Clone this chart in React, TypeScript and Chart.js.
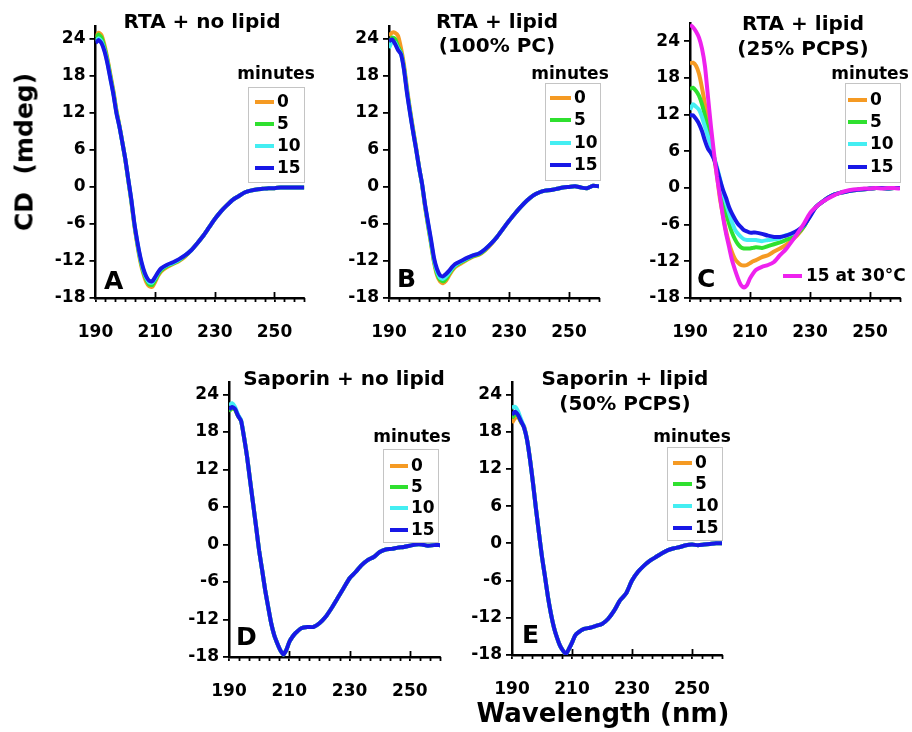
import React, { useEffect, useRef } from 'react';
import { Chart, registerables } from 'chart.js';

Chart.register(...registerables);

const FONT = '"DejaVu Sans", "Liberation Sans", sans-serif';

// ---------- data ----------
const WAVELENGTHS = [190, 191, 192, 193, 194, 195, 196, 197, 198, 199, 200, 201, 202, 203, 204, 205, 206, 207, 208, 209, 210, 211, 212,
  214, 216, 218, 220, 222, 224, 226, 228, 230, 232, 234, 236, 238, 240, 242, 244, 246, 248, 250, 252, 254, 256, 258, 260];

const X_LABEL_TICKS = [190, 210, 230, 250];
const X_MINOR_TICKS = [193.33, 196.67, 200, 203.33, 206.67, 213.33, 216.67, 220, 223.33, 226.67,
  233.33, 236.67, 240, 243.33, 246.67, 253.33, 256.67, 260];
const Y_TICKS = [-18, -12, -6, 0, 6, 12, 18, 24];

const SERIES_LABELS = ['0', '5', '10', '15'];
const SERIES_COLORS = ['#F59A23', '#2FE02F', '#44EEF2', '#1818E6'];
const HOT_LABEL = '15 at 30°C';
const HOT_COLOR = '#EE22EE';

// Panel A: RTA + no lipid
const A_TAIL = [-10.3, -9.2, -8.0, -6.6, -5.2, -4.0, -3.0, -2.1, -1.5, -0.9, -0.6, -0.4, -0.3, -0.2, -0.2, -0.1, -0.1, -0.1, -0.1, -0.1];
const A_0 = [24.3, 25.0, 24.6, 23.0, 20.8, 18.2, 15.6, 12.5, 10.0, 7.3, 4.4, 1.0, -2.4, -6.2, -9.3, -12.0, -14.0, -15.4, -16.1, -16.2, -15.4, -14.4, -13.7, -13.0, -12.5, -12.0, -11.3, ...A_TAIL];
const A_5 = [24.0, 24.7, 24.2, 22.6, 20.5, 17.9, 15.3, 12.3, 9.9, 7.2, 4.4, 1.1, -2.2, -6.0, -9.1, -11.7, -13.7, -15.0, -15.8, -15.9, -15.1, -14.2, -13.5, -12.8, -12.4, -11.9, -11.2, ...A_TAIL];
const A_10 = [23.6, 24.1, 23.6, 22.2, 20.2, 17.6, 15.1, 12.1, 9.8, 7.2, 4.5, 1.1, -2.1, -5.9, -8.9, -11.5, -13.4, -14.7, -15.5, -15.5, -14.8, -13.9, -13.3, -12.7, -12.3, -11.8, -11.1, ...A_TAIL];
const A_15 = [23.3, 23.8, 23.3, 22.0, 20.0, 17.5, 15.0, 12.0, 9.8, 7.2, 4.5, 1.2, -2.0, -5.8, -8.8, -11.3, -13.2, -14.5, -15.2, -15.3, -14.6, -13.8, -13.2, -12.6, -12.2, -11.7, -11.1, ...A_TAIL];

// Panel B: RTA + lipid (100% PC)
const B_TAIL = [-8.1, -6.8, -5.5, -4.3, -3.2, -2.2, -1.4, -0.9, -0.6, -0.5, -0.3, -0.1, 0.0, 0.1, -0.1, -0.2, 0.2, 0.1];
const B_0 = [24.5, 25.0, 25.0, 24.5, 22.5, 19.8, 16.0, 12.6, 9.5, 6.5, 3.3, 0.4, -3.2, -6.3, -9.2, -12.2, -14.3, -15.3, -15.6, -15.2, -14.4, -13.6, -13.0, -12.4, -11.8, -11.3, -11.0, -10.3, -9.3, ...B_TAIL];
const B_5 = [23.0, 24.2, 24.0, 22.8, 21.8, 19.3, 15.6, 12.3, 9.2, 6.3, 3.2, 0.5, -3.0, -6.1, -9.0, -12.0, -14.0, -15.0, -15.3, -14.9, -14.1, -13.4, -12.8, -12.2, -11.7, -11.2, -10.9, -10.2, -9.2, ...B_TAIL];
const B_10 = [22.5, 23.5, 23.4, 22.4, 21.6, 19.1, 15.4, 12.1, 9.1, 6.2, 3.2, 0.5, -2.9, -5.9, -8.8, -11.8, -13.7, -14.7, -14.9, -14.5, -13.9, -13.2, -12.7, -12.1, -11.6, -11.1, -10.8, -10.1, -9.2, ...B_TAIL];
const B_15 = [23.6, 23.9, 23.2, 22.2, 21.5, 19.0, 15.2, 12.0, 9.0, 6.2, 3.2, 0.6, -2.8, -5.7, -8.5, -11.5, -13.3, -14.3, -14.5, -14.1, -13.6, -13.0, -12.5, -12.0, -11.5, -11.1, -10.8, -10.1, -9.2, ...B_TAIL];

// Panel C: RTA + lipid (25% PCPS)
const C_TAIL = [-3.1, -2.3, -1.6, -1.1, -0.8, -0.6, -0.4, -0.3, -0.2, -0.1, 0.0, 0.0, -0.1, 0.0, 0.0];
const C_0 = [20.4, 20.5, 20.0, 18.7, 16.4, 13.7, 10.4, 7.5, 5.0, 2.0, -1.8, -4.5, -7.0, -9.0, -10.5, -11.6, -12.2, -12.6, -12.7, -12.6, -12.3, -12.0, -11.8, -11.3, -11.0, -10.4, -9.9, -9.3, -8.5, -7.6, -6.3, -4.4, ...C_TAIL];
const C_5 = [16.2, 16.4, 15.9, 15.1, 13.7, 11.8, 9.5, 7.2, 5.1, 2.9, 0.5, -2.0, -4.1, -5.8, -7.3, -8.4, -9.2, -9.7, -9.9, -9.9, -9.9, -9.8, -9.7, -9.8, -9.5, -9.2, -8.9, -8.5, -8.1, -7.4, -6.3, -4.5, ...C_TAIL];
const C_10 = [12.8, 13.7, 13.3, 12.8, 11.6, 10.0, 8.4, 6.8, 5.1, 3.4, 1.5, -0.7, -2.5, -4.1, -5.6, -6.8, -7.5, -8.0, -8.4, -8.5, -8.5, -8.5, -8.5, -8.7, -8.5, -8.4, -8.2, -7.7, -7.5, -7.0, -6.1, -4.5, ...C_TAIL];
const C_15 = [11.9, 11.9, 11.3, 10.5, 9.3, 7.7, 6.4, 5.7, 4.7, 3.1, 1.3, -0.3, -1.6, -3.1, -4.2, -5.1, -5.9, -6.4, -6.9, -7.1, -7.3, -7.3, -7.3, -7.5, -7.8, -8.0, -8.0, -7.8, -7.4, -6.9, -6.1, -4.7, ...C_TAIL];
const C_HOT = [26.7, 26.3, 25.6, 24.6, 22.8, 19.9, 14.9, 10.0, 5.7, 1.8, -1.4, -4.7, -7.4, -9.6, -11.8, -13.4, -14.8, -15.9, -16.3, -15.9, -14.8, -14.0, -13.4, -12.9, -12.6, -12.1, -11.0, -10.0, -8.7, -7.3, -5.8, -4.1, -3.1, -2.3, -1.7, -1.2, -0.8, -0.5, -0.3, -0.2, -0.1, -0.1, 0.0, -0.1, 0.0, 0.0, -0.1];

// Panel D: Saporin + no lipid
const D_TAIL = [-17.6, -16.9, -15.6, -14.8, -14.2, -13.4, -13.2, -13.2, -12.6, -11.6, -10.2, -8.6, -7.0, -5.4, -4.4, -3.3, -2.5, -2.0, -1.2, -0.8, -0.7, -0.5, -0.4, -0.2, 0.0, 0.0, -0.2, -0.1, -0.1];
const D_0 = [21.4, 21.8, 21.6, 20.6, 19.8, 17.2, 14.1, 10.3, 6.6, 2.8, -1.0, -4.1, -7.3, -10.0, -12.6, -14.5, -15.8, -16.9, ...D_TAIL];
const D_5 = [21.3, 21.8, 21.6, 20.6, 19.8, 17.1, 14.0, 10.2, 6.5, 2.8, -1.0, -4.1, -7.3, -10.0, -12.6, -14.5, -15.8, -16.9, ...D_TAIL];
const D_10 = [22.3, 22.6, 22.0, 20.8, 19.9, 17.2, 14.1, 10.2, 6.5, 2.8, -1.0, -4.1, -7.3, -10.0, -12.6, -14.5, -15.8, -16.9, ...D_TAIL];
const D_15 = [21.6, 22.0, 21.7, 20.6, 19.8, 17.1, 14.0, 10.2, 6.5, 2.8, -1.0, -4.1, -7.3, -10.0, -12.6, -14.5, -15.8, -16.9, ...D_TAIL];

// Panel E: Saporin + lipid (50% PCPS)
const E_TAIL = [-13.6, -15.2, -16.5, -17.3, -17.8, -17.0, -16.0, -14.9, -14.4, -13.8, -13.6, -13.3, -13.0, -12.2, -10.9, -9.2, -8.1, -6.0, -4.6, -3.6, -2.8, -2.2, -1.6, -1.1, -0.8, -0.6, -0.3, -0.2, -0.3, -0.2, -0.1, 0.0, 0.0];
const E_0 = [19.4, 20.2, 20.4, 19.5, 18.9, 16.8, 13.6, 9.8, 5.6, 1.6, -2.2, -5.4, -8.7, -11.4, ...E_TAIL];
const E_5 = [20.2, 20.8, 20.6, 19.6, 18.7, 16.7, 13.5, 9.7, 5.5, 1.6, -2.2, -5.4, -8.7, -11.4, ...E_TAIL];
const E_10 = [21.9, 22.0, 21.3, 20.0, 18.8, 16.7, 13.5, 9.7, 5.5, 1.6, -2.2, -5.4, -8.7, -11.4, ...E_TAIL];
const E_15 = [20.7, 21.2, 20.7, 19.7, 18.7, 16.7, 13.5, 9.7, 5.5, 1.6, -2.2, -5.4, -8.7, -11.4, ...E_TAIL];

// ---------- layout ----------
const Y_AXIS_W = 60;
const X_AXIS_H = 45;

type Legend = { box: [number, number, number, number]; titleX: number; titleY: number; rows: number[]; lineX: [number, number]; textX: number };
type Panel = {
  canvas: { left: number; top: number; w: number; h: number };
  area: { left: number; right: number; top: number; bottom: number };
  yMax: number;
  title: string[]; titleX: number; titleY: number[];
  letter: string; letterX: number; letterY: number;
  legend: Legend;
  series: number[][];
  hot?: { data: number[]; lineX: [number, number]; y: number; textX: number };
};

const PANELS: Panel[] = [
  {
    canvas: { left: 35, top: 0, w: 290, h: 345 },
    area: { left: 95.5, right: 304.3, top: 26.5, bottom: 298 },
    yMax: 26,
    title: ['RTA + no lipid'], titleX: 202, titleY: [23],
    letter: 'A', letterX: 104, letterY: 289,
    legend: { box: [248, 87, 304, 182], titleX: 276, titleY: 75, rows: [102, 124, 146, 168], lineX: [255, 274], textX: 277 },
    series: [A_0, A_5, A_10, A_15],
  },
  {
    canvas: { left: 329, top: 0, w: 290, h: 345 },
    area: { left: 389, right: 599, top: 26.5, bottom: 298 },
    yMax: 26,
    title: ['RTA + lipid', '(100% PC)'], titleX: 497, titleY: [23, 47],
    letter: 'B', letterX: 397, letterY: 287,
    legend: { box: [545, 83, 600, 180], titleX: 570, titleY: 75, rows: [98, 120, 143, 165], lineX: [550, 571], textX: 574 },
    series: [B_0, B_5, B_10, B_15],
  },
  {
    canvas: { left: 630, top: 0, w: 282, h: 345 },
    area: { left: 690, right: 900, top: 23, bottom: 298 },
    yMax: 27,
    title: ['RTA + lipid', '(25% PCPS)'], titleX: 803, titleY: [25, 50],
    letter: 'C', letterX: 697, letterY: 287,
    legend: { box: [845, 83, 900, 182], titleX: 870, titleY: 75, rows: [100, 122, 144, 167], lineX: [848, 867], textX: 870 },
    series: [C_0, C_5, C_10, C_15],
    hot: { data: C_HOT, lineX: [783, 802], y: 276, textX: 806 },
  },
  {
    canvas: { left: 169, top: 360, w: 290, h: 345 },
    area: { left: 229, right: 440, top: 382, bottom: 657 },
    yMax: 26,
    title: ['Saporin + no lipid'], titleX: 344, titleY: [380],
    letter: 'D', letterX: 236, letterY: 645,
    legend: { box: [383, 449, 438, 542], titleX: 412, titleY: 438, rows: [466, 487, 508, 530], lineX: [390, 408], textX: 411 },
    series: [D_0, D_5, D_10, D_15],
  },
  {
    canvas: { left: 452, top: 360, w: 290, h: 345 },
    area: { left: 512, right: 722, top: 382, bottom: 655 },
    yMax: 26,
    title: ['Saporin + lipid', '(50% PCPS)'], titleX: 625, titleY: [380, 405],
    letter: 'E', letterX: 522, letterY: 643,
    legend: { box: [667, 447, 722, 540], titleX: 692, titleY: 438, rows: [463, 484, 506, 528], lineX: [673, 692], textX: 695 },
    series: [E_0, E_5, E_10, E_15],
  },
];

function makeDecor(p: Panel) {
  const ox = p.canvas.left;
  const oy = p.canvas.top;
  return {
    id: 'decor',
    afterDraw(chart: any) {
      const ctx: CanvasRenderingContext2D = chart.ctx;
      const ca = chart.chartArea;
      const xs = chart.scales.x;
      ctx.save();
      // x minor ticks and major tick upward parts
      ctx.strokeStyle = '#000';
      ctx.lineWidth = 1.8;
      ctx.beginPath();
      for (const v of X_MINOR_TICKS) {
        const px = Math.round(xs.getPixelForValue(v)) + 0.5;
        ctx.moveTo(px, ca.bottom);
        ctx.lineTo(px, ca.bottom + 4);
      }
      for (const v of X_LABEL_TICKS) {
        if (v === 190) continue;
        const px = Math.round(xs.getPixelForValue(v)) + 0.5;
        ctx.moveTo(px, ca.bottom - 6);
        ctx.lineTo(px, ca.bottom);
      }
      ctx.stroke();

      ctx.fillStyle = '#000';
      // title
      ctx.font = `bold 20px ${FONT}`;
      ctx.textAlign = 'center';
      ctx.textBaseline = 'middle';
      p.title.forEach((t, i) => ctx.fillText(t, p.titleX - ox, p.titleY[i] - oy));
      // panel letter
      ctx.font = `bold 25px ${FONT}`;
      ctx.textAlign = 'left';
      ctx.textBaseline = 'alphabetic';
      ctx.fillText(p.letter, p.letterX - ox, p.letterY - oy);
      // legend
      const lg = p.legend;
      ctx.font = `bold 17px ${FONT}`;
      ctx.textAlign = 'center';
      ctx.textBaseline = 'middle';
      ctx.fillText('minutes', lg.titleX - ox, lg.titleY - oy);
      ctx.strokeStyle = '#c4c4c4';
      ctx.lineWidth = 1;
      const [bl, bt, br, bb] = lg.box;
      ctx.strokeRect(bl - ox + 0.5, bt - oy + 0.5, br - bl, bb - bt);
      ctx.textAlign = 'left';
      ctx.lineWidth = 4;
      SERIES_LABELS.forEach((lab, i) => {
        const y = lg.rows[i] - oy;
        ctx.strokeStyle = SERIES_COLORS[i];
        ctx.beginPath();
        ctx.moveTo(lg.lineX[0] - ox, y);
        ctx.lineTo(lg.lineX[1] - ox, y);
        ctx.stroke();
        ctx.fillStyle = '#000';
        ctx.fillText(lab, lg.textX - ox, y + 1);
      });
      if (p.hot) {
        const y = p.hot.y - oy;
        ctx.strokeStyle = HOT_COLOR;
        ctx.beginPath();
        ctx.moveTo(p.hot.lineX[0] - ox, y);
        ctx.lineTo(p.hot.lineX[1] - ox, y);
        ctx.stroke();
        ctx.fillText(HOT_LABEL, p.hot.textX - ox, y + 1);
      }
      ctx.restore();
    },
  };
}

function PanelChart({ p }: { p: Panel }) {
  const ref = useRef<HTMLCanvasElement | null>(null);
  useEffect(() => {
    if (!ref.current) return;
    const toPts = (arr: number[]) => WAVELENGTHS.map((x, i) => ({ x, y: arr[i] }));
    const datasets: any[] = p.series.map((s, i) => ({
      label: SERIES_LABELS[i],
      data: toPts(s),
      borderColor: SERIES_COLORS[i],
      backgroundColor: SERIES_COLORS[i],
      borderWidth: 4,
      pointRadius: 0,
      tension: 0.2,
      order: 10 - i,
    }));
    if (p.hot) {
      datasets.push({
        label: HOT_LABEL,
        data: toPts(p.hot.data),
        borderColor: HOT_COLOR,
        backgroundColor: HOT_COLOR,
        borderWidth: 4,
        pointRadius: 0,
        tension: 0.2,
        order: 0,
      });
    }
    const c = p.canvas;
    const a = p.area;
    const padding = {
      left: a.left - c.left - Y_AXIS_W,
      top: a.top - c.top,
      right: c.left + c.w - a.right,
      bottom: c.top + c.h - a.bottom - X_AXIS_H,
    };
    const tickFont = { family: FONT, size: 17, weight: 'bold' as const };
    const chart = new Chart(ref.current, {
      type: 'line',
      data: { datasets },
      options: {
        responsive: false,
        animation: false,
        devicePixelRatio: 1,
        layout: { padding },
        plugins: { legend: { display: false }, tooltip: { enabled: false } },
        scales: {
          x: {
            type: 'linear',
            min: 190,
            max: 260,
            afterBuildTicks: (s: any) => { s.ticks = X_LABEL_TICKS.map((v) => ({ value: v })); },
            afterFit: (s: any) => { s.height = X_AXIS_H; },
            grid: { display: true, drawOnChartArea: false, drawTicks: true, tickLength: 4, color: '#000', lineWidth: 1.8 },
            border: { display: true, color: '#000', width: 2.5 },
            ticks: { font: tickFont, color: '#000', padding: 20, maxRotation: 0, autoSkip: false, callback: (v: any) => String(v) },
          },
          y: {
            type: 'linear',
            min: -18,
            max: p.yMax,
            afterBuildTicks: (s: any) => { s.ticks = Y_TICKS.map((v) => ({ value: v })); },
            afterFit: (s: any) => { s.width = Y_AXIS_W; },
            grid: { display: true, drawOnChartArea: false, drawTicks: true, tickLength: 6, color: '#000', lineWidth: 1.8 },
            border: { display: true, color: '#000', width: 2.5 },
            ticks: { font: tickFont, color: '#000', padding: 4, autoSkip: false, callback: (v: any) => String(v) },
          },
        },
      },
      plugins: [makeDecor(p)],
    } as any);
    return () => chart.destroy();
  }, [p]);
  return (
    <canvas
      ref={ref}
      width={p.canvas.w}
      height={p.canvas.h}
      style={{ position: 'absolute', left: p.canvas.left, top: p.canvas.top, width: p.canvas.w, height: p.canvas.h }}
    />
  );
}

export default function App() {
  return (
    <div style={{ position: 'absolute', left: 0, top: 0, width: 912, height: 732, background: '#fff', overflow: 'hidden' }}>
      {PANELS.map((p, i) => <PanelChart key={i} p={p} />)}
      <div
        style={{
          position: 'absolute', left: 24, top: 152, transform: 'translate(-50%, -50%) rotate(-90deg)',
          font: `bold 25px ${FONT}`, whiteSpace: 'pre', color: '#000',
        }}
      >
        CD  (mdeg)
      </div>
      <div
        style={{
          position: 'absolute', left: 603, top: 713, transform: 'translate(-50%, -50%)',
          font: `bold 26px ${FONT}`, whiteSpace: 'nowrap', color: '#000',
        }}
      >
        Wavelength (nm)
      </div>
    </div>
  );
}
